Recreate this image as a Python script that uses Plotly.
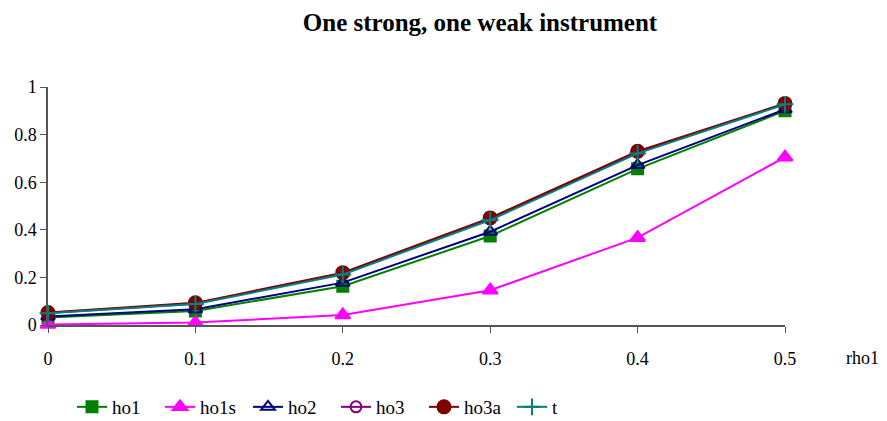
import plotly.graph_objects as go

rho1 = [0, 0.1, 0.2, 0.3, 0.4, 0.5]
ho1 = [0.031, 0.059, 0.163, 0.374, 0.656, 0.900]
ho1s = [0.002, 0.010, 0.042, 0.146, 0.367, 0.705]
ho2 = [0.036, 0.066, 0.178, 0.392, 0.672, 0.906]
ho3 = [0.050, 0.090, 0.216, 0.447, 0.726, 0.929]
ho3a = [0.052, 0.093, 0.220, 0.450, 0.730, 0.931]
t = [0.049, 0.088, 0.212, 0.441, 0.721, 0.927]

x_ticks = [0, 0.1, 0.2, 0.3, 0.4, 0.5]
x_ticklabels = ["0", "0.1", "0.2", "0.3", "0.4", "0.5"]
y_ticks = [0, 0.2, 0.4, 0.6, 0.8, 1]
y_ticklabels = ["0", "0.2", "0.4", "0.6", "0.8", "1"]

series = [
    ("ho1", ho1, "#008000", "square", 11),
    ("ho1s", ho1s, "#FF00FF", "triangle-up", 13),
    ("ho2", ho2, "#000080", "triangle-up-open", 12),
    ("ho3", ho3, "#800080", "circle-open", 11),
    ("ho3a", ho3a, "#800000", "circle", 13),
    ("t", t, "#008080", "cross-thin-open", 12),
]

fig = go.Figure()
for name, vals, color, symbol, size in series:
    fig.add_trace(go.Scatter(
        x=rho1, y=vals, name=name, mode="lines+markers",
        line=dict(color=color, width=2),
        marker=dict(symbol=symbol, size=size, color=color,
                    line=dict(color=color, width=2)),
        cliponaxis=False,
    ))

font = "Times New Roman"
tickfont = dict(family=font, size=18, color="black")
fig.update_layout(
    template="none",
    width=887, height=421,
    margin=dict(l=48, r=102, t=87, b=96, autoexpand=False),
    paper_bgcolor="white", plot_bgcolor="white",
    font=dict(family=font, size=18, color="black"),
    title=dict(text="<b>One strong, one weak instrument</b>",
               x=480 / 887, xanchor="center", y=1 - 22 / 421, yanchor="middle",
               font=dict(family=font, size=25, color="black")),
    showlegend=True,
    legend=dict(orientation="h", xref="container", yref="container",
                x=72 / 887, xanchor="left",
                y=1 - 407 / 421, yanchor="middle",
                font=dict(family=font, size=19),
                entrywidth=43, entrywidthmode="pixels",
                tracegroupgap=0, bgcolor="rgba(0,0,0,0)"),
    annotations=[dict(text="rho1", x=(862 - 48) / 737, y=(325 - 358) / 238,
                      xref="paper", yref="paper",
                      showarrow=False, xanchor="center", yanchor="middle",
                      font=dict(family=font, size=18))],
)
fig.update_xaxes(range=[0, 0.5], tickvals=x_ticks, ticktext=x_ticklabels,
                 tickfont=tickfont,
                 showgrid=False, zeroline=False, showline=True,
                 linecolor="#555555", linewidth=1.5, ticks="outside",
                 ticklen=6, tickcolor="#555555", ticklabelstandoff=11)
fig.update_yaxes(range=[0, 1], tickvals=y_ticks, ticktext=y_ticklabels,
                 tickfont=tickfont,
                 showgrid=False, zeroline=False, showline=True,
                 linecolor="#555555", linewidth=1.5, ticks="outside",
                 ticklen=6, tickcolor="#555555")

fig.write_html("out.html")
